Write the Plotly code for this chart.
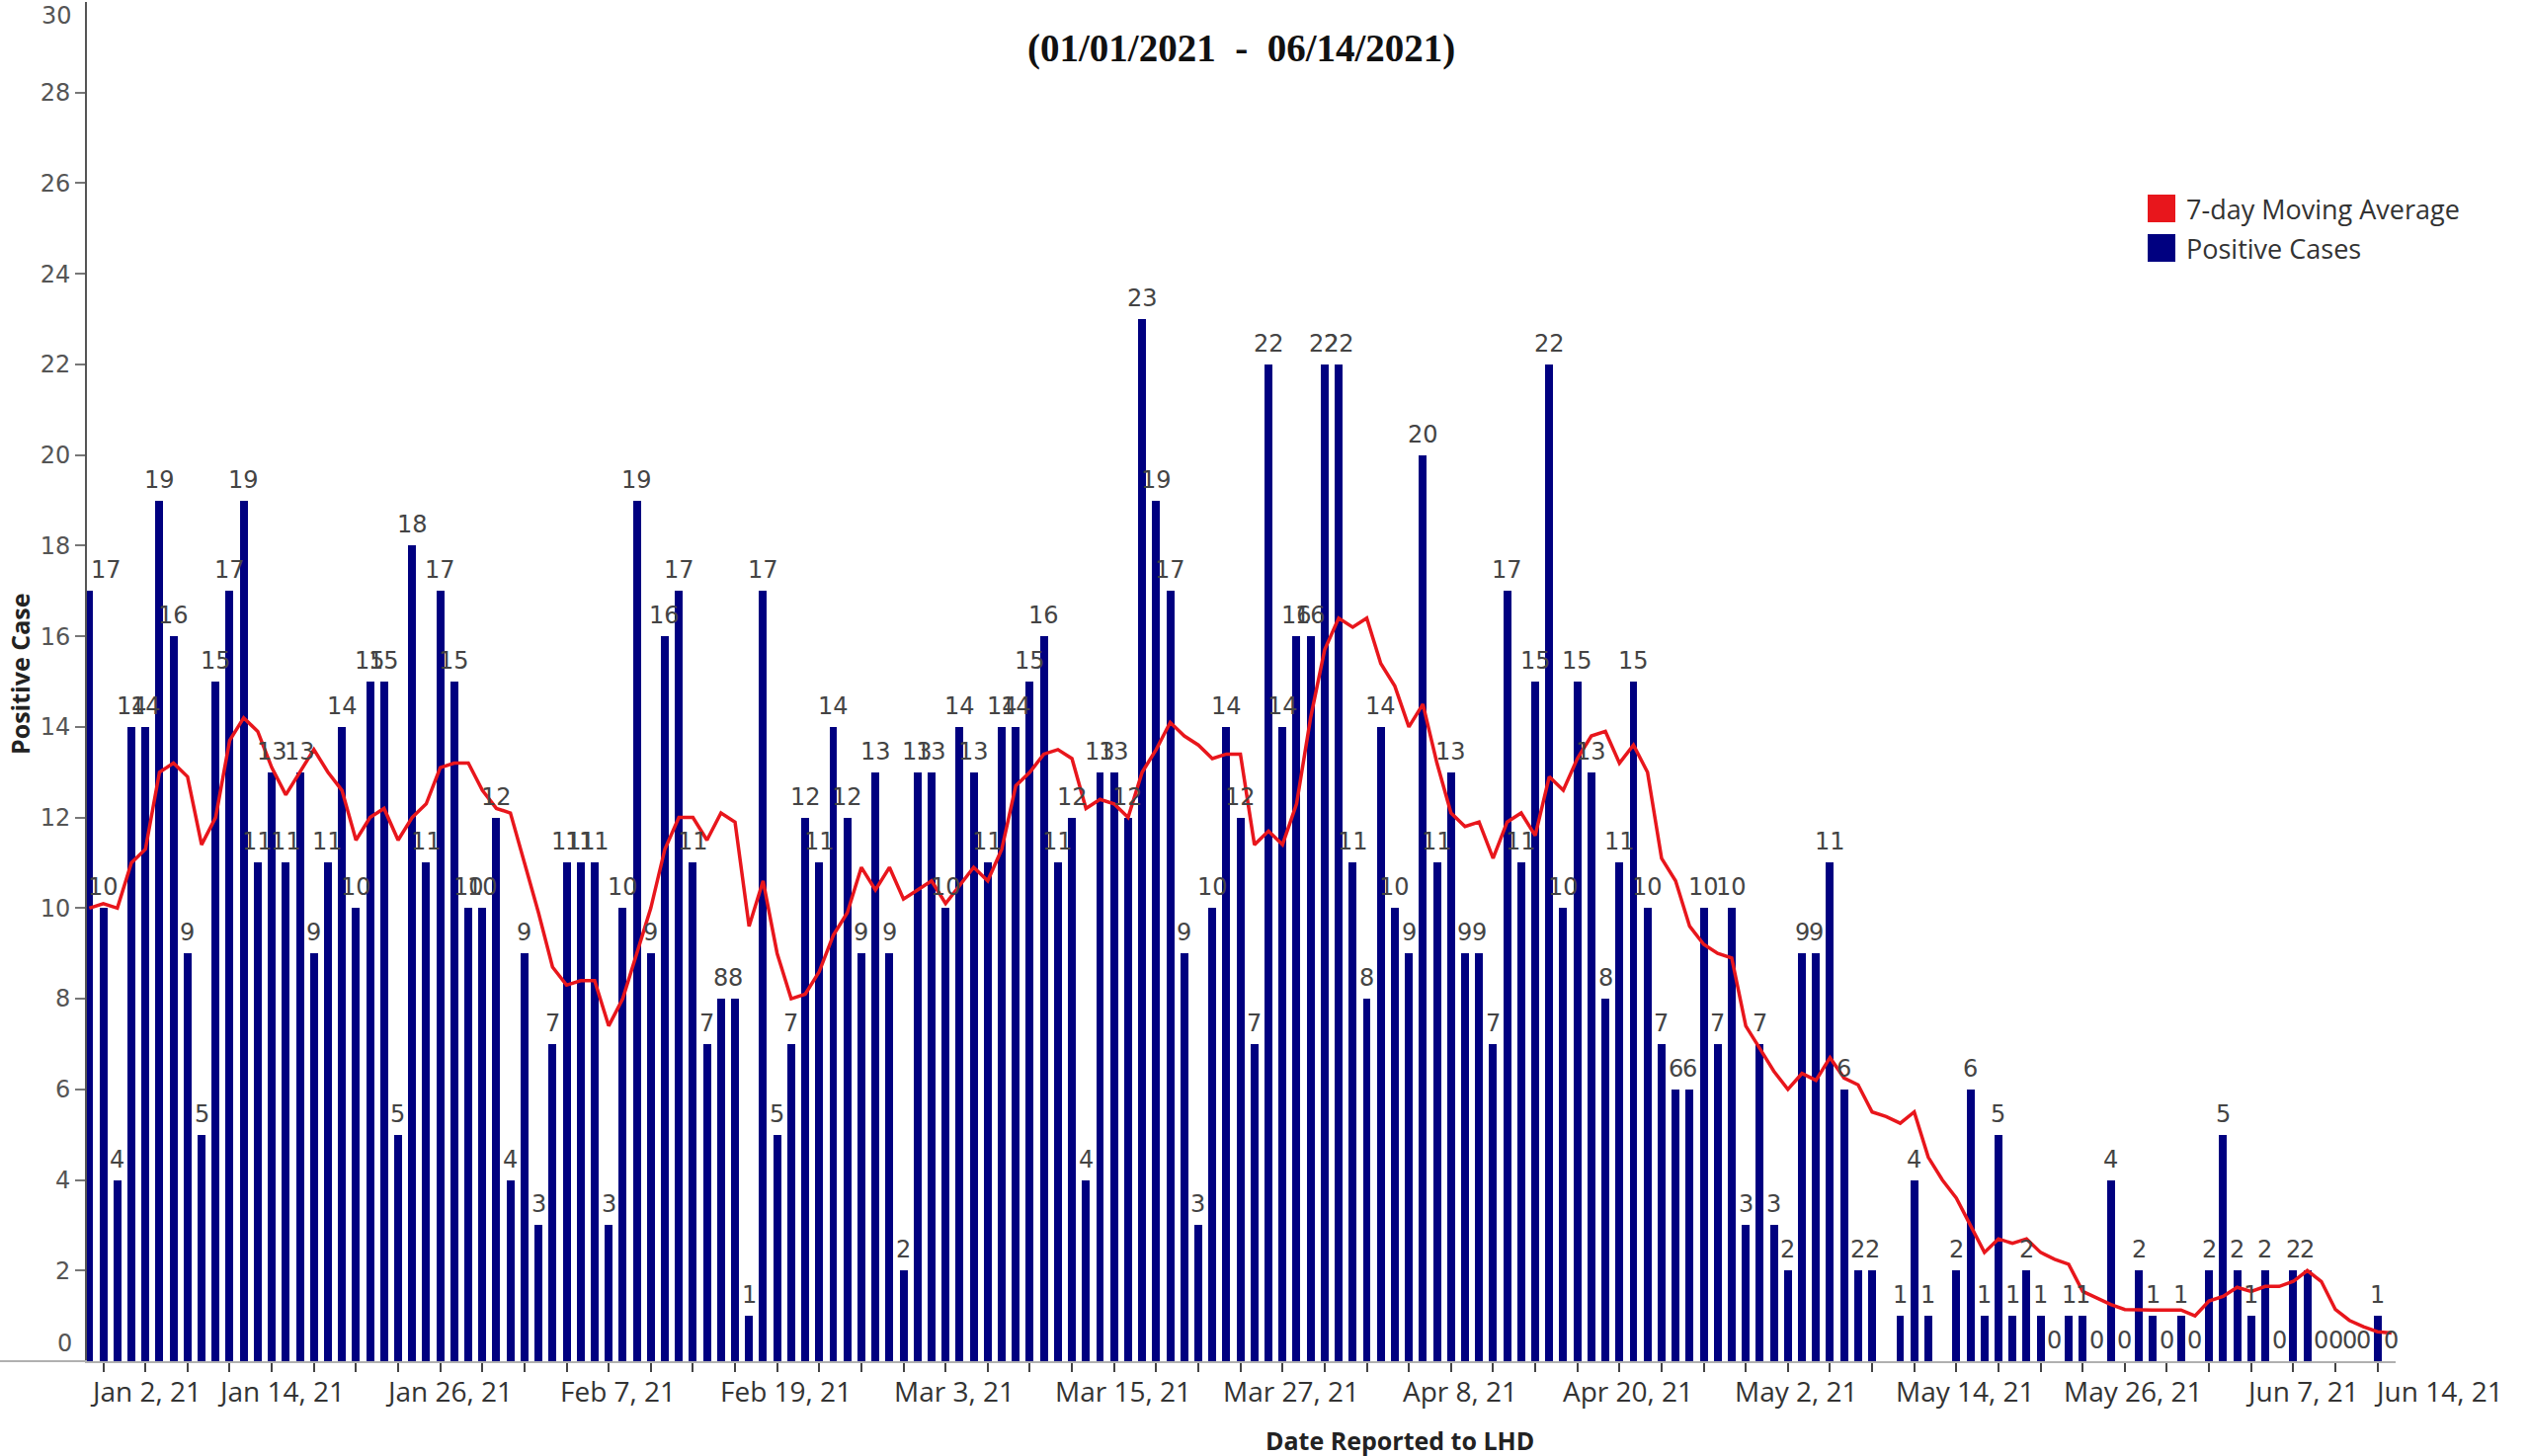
import pandas as pd
import plotly.graph_objects as go

# ---------------- data ----------------
start_date = "2021-01-01"
end_date = "2021-06-14"

cases_jan = [17, 10, 4, 14, 14, 19, 16, 9, 5, 15, 17, 19, 11, 13, 11, 13, 9, 11, 14, 10,
             15, 15, 5, 18, 11, 17, 15, 10, 10, 12, 4]
cases_feb = [9, 3, 7, 11, 11, 11, 3, 10, 19, 9, 16, 17, 11, 7, 8, 8, 1, 17, 5, 7,
             12, 11, 14, 12, 9, 13, 9, 2]
cases_mar = [13, 13, 10, 14, 13, 11, 14, 14, 15, 16, 11, 12, 4, 13, 13, 12, 23, 19, 17, 9,
             3, 10, 14, 12, 7, 22, 14, 16, 16, 22, 22]
cases_apr = [11, 8, 14, 10, 9, 20, 11, 13, 9, 9, 7, 17, 11, 15, 22, 10, 15, 13, 8, 11,
             15, 10, 7, 6, 6, 10, 7, 10, 3, 7]
cases_may = [3, 2, 9, 9, 11, 6, 2, 2, None, 1, 4, 1, None, 2, 6, 1, 5, 1, 2, 1,
             0, 1, 1, 0, 4, 0, 2, 1, 0, 1, 0]
cases_jun = [2, 5, 2, 1, 2, 0, 2, 2, 0, 0, 0, 0, 1, 0]

ma_jan = [10.0, 10.1, 10.0, 11.0, 11.3, 13.0, 13.2, 12.9, 11.4, 12.0, 13.7, 14.2, 13.9, 13.1,
          12.5, 13.0, 13.5, 13.0, 12.6, 11.5, 12.0, 12.2, 11.5, 12.0, 12.3, 13.1, 13.2, 13.2,
          12.6, 12.2, 12.1]
ma_feb = [11.0, 9.9, 8.7, 8.3, 8.4, 8.4, 7.4, 8.0, 9.0, 10.0, 11.3, 12.0, 12.0, 11.5, 12.1,
          11.9, 9.6, 10.6, 9.0, 8.0, 8.1, 8.6, 9.4, 9.9, 10.9, 10.4, 10.9, 10.2]
ma_mar = [10.4, 10.6, 10.1, 10.5, 10.9, 10.6, 11.3, 12.7, 13.0, 13.4, 13.5, 13.3, 12.2, 12.4,
          12.3, 12.0, 13.0, 13.5, 14.1, 13.8, 13.6, 13.3, 13.4, 13.4, 11.4, 11.7, 11.4, 12.3,
          14.2, 15.7, 16.4]
ma_apr = [16.2, 16.4, 15.4, 14.9, 14.0, 14.5, 13.2, 12.1, 11.8, 11.9, 11.1, 11.9, 12.1, 11.6,
          12.9, 12.6, 13.3, 13.8, 13.9, 13.2, 13.6, 13.0, 11.1, 10.6, 9.6, 9.2, 9.0, 8.9, 7.4, 6.9]
ma_may = [6.4, 6.0, 6.35, 6.2, 6.7, 6.25, 6.1, 5.5, 5.4, 5.25, 5.5, 4.5, 4.0, 3.6, 3.0, 2.4,
          2.7, 2.6, 2.7, 2.4, 2.25, 2.14, 1.54, 1.4, 1.25, 1.14, 1.13, 1.13, 1.13, 1.13, 1.0]
ma_jun = [1.33, 1.43, 1.63, 1.54, 1.65, 1.65, 1.76, 2.0, 1.76, 1.14, 0.9, 0.76, 0.65, 0.62]

tick_label_dates = ["2021-01-02", "2021-01-14", "2021-01-26", "2021-02-07", "2021-02-19",
                    "2021-03-03", "2021-03-15", "2021-03-27", "2021-04-08", "2021-04-20",
                    "2021-05-02", "2021-05-14", "2021-05-26", "2021-06-07", "2021-06-14"]
tick_labels = ["Jan 2, 21", "Jan 14, 21", "Jan 26, 21", "Feb 7, 21", "Feb 19, 21",
               "Mar 3, 21", "Mar 15, 21", "Mar 27, 21", "Apr 8, 21", "Apr 20, 21",
               "May 2, 21", "May 14, 21", "May 26, 21", "Jun 7, 21", "Jun 14, 21"]

y_tick_values = [2, 4, 6, 8, 10, 12, 14, 16, 18, 20, 22, 24, 26, 28]

title_text = "(01/01/2021 \u00a0-\u00a0 06/14/2021)"
x_title = "Date Reported to LHD"
y_title = "Positive Case"
legend_names = ["7-day Moving Average", "Positive Cases"]

# ---------------- build ----------------
dates = pd.date_range(start_date, end_date, freq="D")
cases = cases_jan + cases_feb + cases_mar + cases_apr + cases_may + cases_jun
ma = ma_jan + ma_feb + ma_mar + ma_apr + ma_may + ma_jun

BAR_COLOR = "#000080"
LINE_COLOR = "#e8161c"
DAY_MS = 86400000

# plot-area pixel geometry
W, H = 2560, 1474
L, R, T, B = 88, 135, 2, 96
PW = W - L - R
PH = H - T - B


def px_x(px):
    return (px - L) / PW


def px_y(py):
    return (H - B - py) / PH


fig = go.Figure()
fig.add_trace(go.Bar(
    x=dates, y=cases, width=0.56 * DAY_MS,
    marker=dict(color=BAR_COLOR, line=dict(width=0)),
    name=legend_names[1], showlegend=False,
))
fig.add_trace(go.Scatter(
    x=dates, y=ma, mode="lines",
    line=dict(color=LINE_COLOR, width=3.5),
    name=legend_names[0], showlegend=False,
))

annotations = []
label_font = dict(family="DejaVu Sans", size=24, color="#444444")
for i, (d, v) in enumerate(zip(dates, cases)):
    if v is None:
        continue
    annotations.append(dict(
        x=d, y=v, xref="x", yref="y", text=str(v), showarrow=False,
        yanchor="bottom", xanchor="left" if i == 0 else "center",
        yshift=5, font=label_font,
    ))

# x tick labels
for j, (d, t) in enumerate(zip(tick_label_dates, tick_labels)):
    if j == 0:
        xs = 43
    elif j == len(tick_labels) - 1:
        xs = 48
    else:
        xs = 9
    annotations.append(dict(
        x=d, y=0, xref="x", yref="paper", text=t, showarrow=False,
        yanchor="middle", xanchor="center", yshift=-30, xshift=xs,
        font=dict(family="Open Sans", size=28, color="#333333"),
    ))

# y end labels (0 and 30 shown inset like the original)
for val, py in ((30, 16), (0, 1360)):
    annotations.append(dict(
        x=0, y=px_y(py), xref="paper", yref="paper", text=str(val), showarrow=False,
        xanchor="right", yanchor="middle", xshift=-13,
        font=dict(family="DejaVu Sans", size=24, color="#555555"),
    ))

# titles
annotations.append(dict(
    x=0.5, y=px_y(49), xref="paper", yref="paper", text=title_text, showarrow=False,
    xanchor="center", yanchor="middle",
    font=dict(family="Liberation Serif", size=39, color="#111111", weight="bold"),
))
annotations.append(dict(
    x=px_x(1417), y=0, xref="paper", yref="paper", text=x_title, showarrow=False,
    xanchor="center", yanchor="middle", yshift=-80,
    font=dict(family="Open Sans", size=25, color="#222222", weight="bold"),
))
annotations.append(dict(
    x=0, y=px_y(683), xref="paper", yref="paper", text=y_title, showarrow=False,
    xanchor="center", yanchor="middle", xshift=-68, textangle=-90,
    font=dict(family="Open Sans", size=25, color="#222222", weight="bold"),
))

# custom legend
shapes = []
for k, (name, col, cy) in enumerate(((legend_names[0], LINE_COLOR, 211),
                                     (legend_names[1], BAR_COLOR, 251))):
    shapes.append(dict(
        type="rect", xref="paper", yref="paper",
        x0=px_x(2174), x1=px_x(2202), y0=px_y(cy + 14), y1=px_y(cy - 14),
        fillcolor=col, line=dict(width=0),
    ))
    annotations.append(dict(
        x=px_x(2211), y=px_y(cy), xref="paper", yref="paper", text=name, showarrow=False,
        xanchor="left", yanchor="middle",
        font=dict(family="Open Sans", size=27, color="#333333"),
    ))

# x axis line extension to the left edge
shapes.append(dict(
    type="line", xref="paper", yref="paper", x0=px_x(0), x1=0, y0=0, y1=0,
    line=dict(color="#b0b0b0", width=2),
))

x_ticks = pd.date_range("2021-01-02", end_date, freq="3D")

fig.update_layout(
    width=W, height=H,
    margin=dict(l=L, r=R, t=T, b=B),
    paper_bgcolor="white", plot_bgcolor="white",
    bargap=0,
    annotations=annotations, shapes=shapes,
    showlegend=False,
    xaxis=dict(
        type="date",
        range=["2020-12-31 20:00", "2021-06-14 07:00"],
        showgrid=False, zeroline=False,
        showline=True, linecolor="#b0b0b0", linewidth=2,
        ticks="outside", tickvals=list(x_ticks), ticklen=9, tickwidth=1.5,
        tickcolor="#444444", showticklabels=False,
    ),
    yaxis=dict(
        range=[0, 30], showgrid=False, zeroline=False,
        showline=True, linecolor="#555555", linewidth=2,
        ticks="outside", tickvals=y_tick_values, ticklen=10, tickwidth=1.5,
        tickcolor="#777777",
        tickfont=dict(family="DejaVu Sans", size=24, color="#555555"),
    ),
)

fig.write_html(
    "out.html",
    config={"displayModeBar": False},
    post_script="document.body.style.margin='0';document.body.style.overflow='hidden';",
)
